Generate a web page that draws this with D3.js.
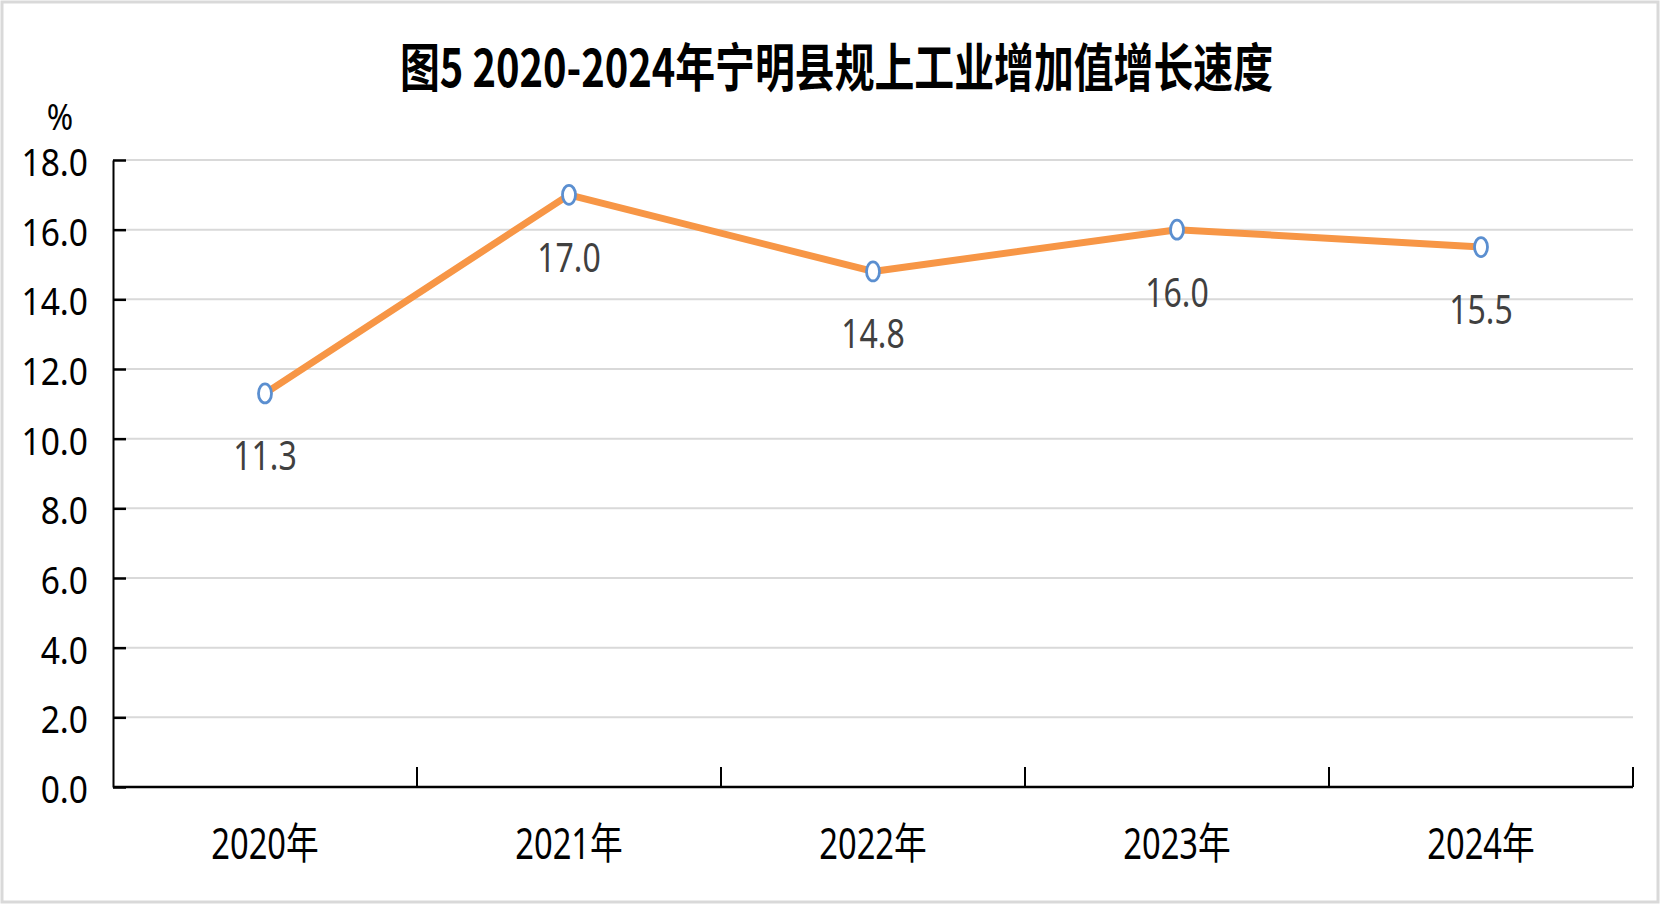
<!DOCTYPE html>
<html>
<head>
<meta charset="utf-8">
<script src="https://d3js.org/d3.v7.min.js"></script>
<style>
body { margin: 0; background: #fff; }
svg { display: block; }
text { font-family: "Noto Sans", "Noto Sans CJK SC", sans-serif; }
.title { font-family: "Noto Sans CJK SC", sans-serif; font-weight: 700; fill: #000; }
.tick-label { fill: #000; font-size: 39px; }
.data-label { fill: #404040; font-size: 40px; }
</style>
</head>
<body>
<div id="chart"></div>
<script>
// chart values
var years = ["2020年", "2021年", "2022年", "2023年", "2024年"];
var growth = [11.3, 17.0, 14.8, 16.0, 15.5];
var yTicks = [0, 2, 4, 6, 8, 10, 12, 14, 16, 18];
var titleText = "图5 2020-2024年宁明县规上工业增加值增长速度";
var unitText = "%";

var width = 1667, height = 907;
var plotLeft = 113, plotRight = 1633, plotTop = 160, plotBottom = 787;

var svg = d3.select("#chart").append("svg")
  .attr("width", width).attr("height", height);

// outer frame
svg.append("rect")
  .attr("x", 2).attr("y", 2).attr("width", 1656).attr("height", 900)
  .attr("fill", "#fff").attr("stroke", "#d9d9d9").attr("stroke-width", 3);

var x = d3.scaleBand().domain(years).range([plotLeft, plotRight]);
var y = d3.scaleLinear().domain([0, 18]).range([plotBottom, plotTop]);
var fmt = d3.format(".1f");
var cx = d => x(d) + x.bandwidth() / 2;

// the source chart uses a narrow font, so squeeze text horizontally
function place(px, py, sx) {
  return "translate(" + px + "," + py + ") scale(" + sx + ",1)";
}

// gridlines
svg.selectAll("line.grid").data(yTicks.filter(d => d > 0)).enter()
  .append("line")
  .attr("class", "grid")
  .attr("x1", plotLeft).attr("x2", plotRight)
  .attr("y1", d => y(d)).attr("y2", d => y(d))
  .attr("stroke", "#d9d9d9").attr("stroke-width", 2);

// y axis (ticks only, labels drawn below)
var yAxis = svg.append("g")
  .attr("transform", "translate(" + plotLeft + ",0)")
  .call(d3.axisLeft(y).tickValues(yTicks).tickFormat("")
    .tickSizeInner(-13).tickSizeOuter(0));
yAxis.select(".domain").attr("stroke", "#000").attr("stroke-width", 2);
yAxis.selectAll(".tick line").attr("stroke", "#000").attr("stroke-width", 2.5);

svg.selectAll("text.ylabel").data(yTicks).enter()
  .append("text")
  .attr("class", "tick-label ylabel")
  .attr("text-anchor", "end")
  .attr("transform", d => place(88, y(d) + 16, 0.86))
  .text(d => fmt(d));

// x axis baseline and boundary ticks
svg.append("line")
  .attr("x1", plotLeft).attr("x2", plotRight)
  .attr("y1", y(0)).attr("y2", y(0))
  .attr("stroke", "#000").attr("stroke-width", 2.5);
svg.selectAll("line.xtick").data(years).enter()
  .append("line")
  .attr("class", "xtick")
  .attr("x1", d => x(d) + x.bandwidth()).attr("x2", d => x(d) + x.bandwidth())
  .attr("y1", y(0)).attr("y2", y(0) - 20)
  .attr("stroke", "#000").attr("stroke-width", 2);

svg.selectAll("text.xlabel").data(years).enter()
  .append("text")
  .attr("class", "tick-label xlabel")
  .attr("text-anchor", "middle")
  .attr("transform", d => place(cx(d), 859, 0.76))
  .style("font-size", "43px")
  .text(d => d);

// line series
var pts = years.map((d, i) => ({ year: d, value: growth[i] }));
var line = d3.line()
  .x(d => cx(d.year))
  .y(d => y(d.value));

svg.append("path")
  .datum(pts)
  .attr("d", line)
  .attr("fill", "none")
  .attr("stroke", "#F79646")
  .attr("stroke-width", 7)
  .attr("stroke-linejoin", "round");

svg.selectAll("ellipse.marker").data(pts).enter()
  .append("ellipse")
  .attr("class", "marker")
  .attr("cx", d => cx(d.year))
  .attr("cy", d => y(d.value))
  .attr("rx", 6.5).attr("ry", 9.5)
  .attr("fill", "#fff")
  .attr("stroke", "#5B8FD0")
  .attr("stroke-width", 2.8);

svg.selectAll("text.data-label").data(pts).enter()
  .append("text")
  .attr("class", "data-label")
  .attr("text-anchor", "middle")
  .attr("transform", d => place(cx(d.year), y(d.value) + 77, 0.8))
  .text(d => fmt(d.value));

// unit and title
svg.append("text")
  .attr("class", "tick-label")
  .attr("text-anchor", "middle")
  .attr("transform", place(60, 130, 0.86))
  .style("font-size", "37px")
  .text(unitText);

svg.append("text")
  .attr("class", "title")
  .attr("x", 400).attr("y", 87)
  .attr("textLength", 873)
  .attr("lengthAdjust", "spacingAndGlyphs")
  .style("font-size", "52px")
  .text(titleText);
</script>
</body>
</html>
